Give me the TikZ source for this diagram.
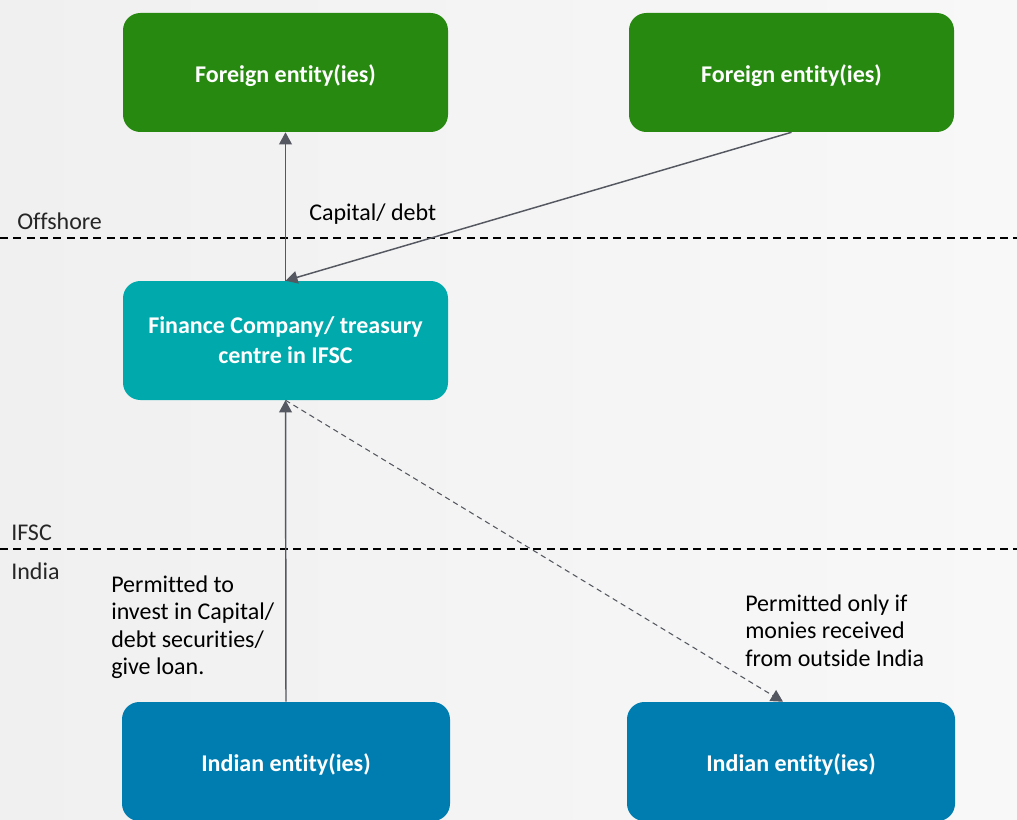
\documentclass[tikz,border=0pt]{standalone}
\usepackage{fontspec}
\setmainfont{Carlito}[RawFeature={-liga;-clig;-dlig}]
\usetikzlibrary{arrows.meta}
\definecolor{fgreen}{RGB}{39,137,16}
\definecolor{fteal}{RGB}{0,169,172}
\definecolor{fblue}{RGB}{0,125,176}
\definecolor{arr}{RGB}{85,88,96}
\definecolor{bgL}{RGB}{240,240,240}
\definecolor{bgR}{RGB}{248,248,248}
\tikzset{
  entbox/.style={rounded corners=13pt, minimum width=243.75pt, minimum height=89.25pt, inner sep=0pt,
    text=white, font=\fontsize{18}{22.5}\selectfont\bfseries, align=center},
  oneline/.style={text height=19.5pt, text depth=4.5pt},
  lbl/.style={font=\fontsize{18}{20.5}\selectfont, text=black, inner sep=0pt, align=left},
  zone/.style={font=\fontsize{18}{20.25}\selectfont, text=black!85, inner sep=0pt, anchor=west},
  sep/.style={draw=black, line width=1.1pt, dash pattern=on 6pt off 4pt},
  flow/.style={draw=arr, line width=1.1pt, -{Triangle[width=9.5pt,length=9pt]}},
  dflow/.style={draw=arr, line width=0.8pt, dash pattern=on 4pt off 3pt, -{Triangle[width=9.5pt,length=9pt]}}
}
\begin{document}
\begin{tikzpicture}[x=0.75pt,y=-0.75pt]
\clip (0,0) rectangle (1017,820);
\useasboundingbox (0,0) rectangle (1017,820);
\shade[left color=bgL, right color=bgR] (0,0) rectangle (1017,820);
% separators
\coordinate (s1l) at (0,238); \coordinate (s1r) at (1017,238);
\coordinate (s2l) at (0,549); \coordinate (s2r) at (1017,549);
\draw[sep] (s1l) -- (s1r);
\draw[sep] (s2l) -- (s2r);
\node[zone] (off) at (17,221) {Offshore};
\node[zone] (ifsc) at (11,533) {IFSC};
\node[zone] (ind) at (11,571) {India};
% boxes
\node[entbox, oneline, fill=fgreen] (f1) at (285.5,72.5) {Foreign entity(ies)};
\node[entbox, oneline, fill=fgreen] (f2) at (791.5,72.5) {Foreign entity(ies)};
\node[entbox, fill=fteal] (fin) at (285.5,340.5) {Finance Company/ treasury\\centre in IFSC};
\node[entbox, oneline, fill=fblue, minimum width=246pt] (in1) at (286,761.5) {Indian entity(ies)};
\node[entbox, oneline, fill=fblue, minimum width=246pt] (in2) at (791,761.5) {Indian entity(ies)};
% connectors
\draw[flow] (fin.north) -- (f1.south);
\draw[flow] (f2.south) -- (fin.north);
\draw[flow] (in1.north) -- (fin.south);
\draw[dflow] (fin.south) -- ([xshift=-6pt]in2.north);
% labels
\node[lbl, anchor=west] (cap) at (309,214) {Capital/ debt};
\node[lbl, anchor=north west] (perm1) at (111,575.5) {Permitted to\\invest in Capital/\\debt securities/\\give loan.};
\node[lbl, anchor=north west] (perm2) at (745,594.5) {Permitted only if\\monies received\\from outside India};
\end{tikzpicture}
\end{document}
